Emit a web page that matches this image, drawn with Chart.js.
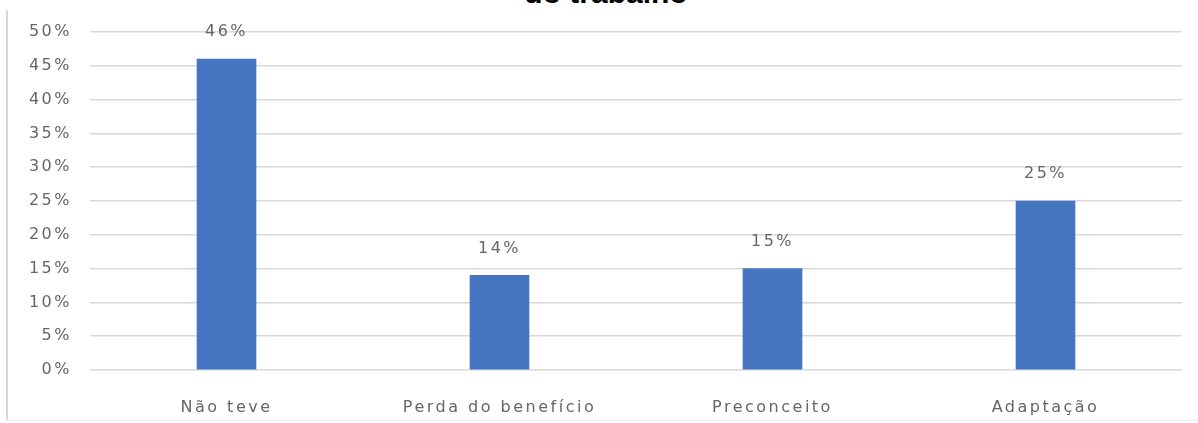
<!DOCTYPE html>
<html>
<head>
<meta charset="utf-8">
<script src="https://cdn.jsdelivr.net/npm/chart.js@4"></script>
<style>
  html, body { margin: 0; padding: 0; background: #fff; }
  .wrap { position: relative; width: 1198px; height: 423px; overflow: hidden; }
  .frame {
    position: absolute; left: 6px; top: 10px; width: 1192px; height: 410px;
    border-left: 2px solid #d9d9d9; border-bottom: 1px solid #ececec;
  }
  .title {
    position: absolute; left: 0; width: 1212px; top: -22px;
    text-align: center; font: bold 30px "Liberation Sans", Arial, sans-serif;
    line-height: 30px; color: #000;
  }
  canvas { position: absolute; left: 0; top: 0; }
</style>
</head>
<body>
<div class="wrap">
  <div class="frame"></div>
  <div class="title">do trabalho</div>
  <canvas id="dificuldadesChart" width="1198" height="423"></canvas>
</div>
<script>
const categories = ["Não teve", "Perda do benefício", "Preconceito", "Adaptação"];
const percentValues = [46, 14, 15, 25];
const yTickMax = 50;
const yTickStep = 5;

const textColor = "#666666";
const textFont = { family: "'DejaVu Sans', sans-serif", size: 16 };

// wide lettering, set again on every draw since a canvas resize resets the context
const letterSpacingPlugin = {
  id: "letterSpacing",
  beforeDraw: (chart) => {
    chart.ctx.letterSpacing = "2.5px";
  },
};

// percentage above each bar
const valueLabelsPlugin = {
  id: "valueLabels",
  afterDatasetsDraw: (chart) => {
    const ctx = chart.ctx;
    const meta = chart.getDatasetMeta(0);
    ctx.save();
    ctx.font = `${textFont.size}px ${textFont.family}`;
    ctx.fillStyle = textColor;
    ctx.textAlign = "center";
    ctx.textBaseline = "middle";
    meta.data.forEach((bar, i) => {
      ctx.fillText(percentValues[i] + "%", bar.x, bar.y - 27);
    });
    ctx.restore();
  },
};

const ctx = document.getElementById("dificuldadesChart").getContext("2d");
const dificuldadesChart = new Chart(ctx, {
  type: "bar",
  data: {
    labels: categories,
    datasets: [
      {
        data: percentValues,
        backgroundColor: "#4676C2",
        borderWidth: 0,
        barThickness: 59,
      },
    ],
  },
  options: {
    responsive: false,
    animation: false,
    layout: { padding: { top: 32, right: 16, left: 0, bottom: 0 } },
    plugins: {
      legend: { display: false },
      tooltip: { enabled: false },
    },
    scales: {
      x: {
        grid: { display: false },
        border: { display: false },
        ticks: { color: textColor, font: textFont, padding: 20, maxRotation: 0 },
        afterFit: (scale) => {
          scale.height = 53;
        },
      },
      y: {
        min: 0,
        max: yTickMax,
        grid: { color: "#d9d9d9", lineWidth: 1.5, drawTicks: false },
        border: { display: false },
        ticks: {
          stepSize: yTickStep,
          color: textColor,
          font: textFont,
          padding: 18,
          callback: (value) => value + "%",
        },
        afterFit: (scale) => {
          scale.width = 90;
        },
      },
    },
  },
  plugins: [letterSpacingPlugin, valueLabelsPlugin],
});
</script>
</body>
</html>
